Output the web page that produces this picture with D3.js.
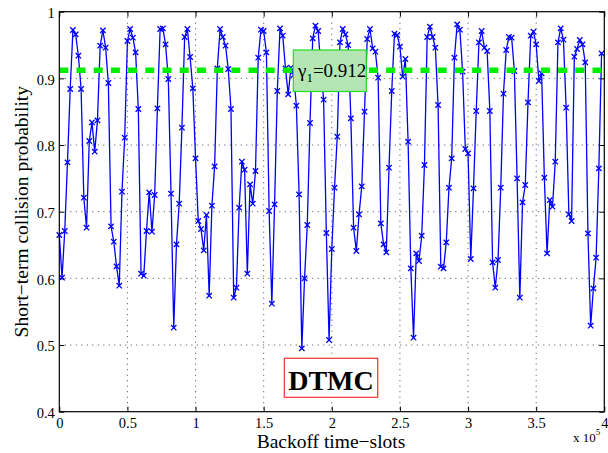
<!DOCTYPE html>
<html><head><meta charset="utf-8">
<script src="https://cdn.jsdelivr.net/npm/d3@7"></script>
<style>
html,body{margin:0;padding:0;background:#fff;}
text{font-family:"Liberation Serif","Times New Roman",serif;}
</style></head>
<body><svg id="c" width="608" height="453"></svg>
<script>
// ---- data ----
const xStart = 0;          // first backoff time-slot
const xStep = 2000;        // time-slot spacing between samples
const probValues = [
0.665,0.601,0.671,0.774,0.884,0.9725,0.966,0.934,0.884,0.721,
0.676,0.806,0.834,0.79,0.837,0.949,0.972,0.946,0.893,0.678,
0.655,0.618,0.589,0.73,0.811,0.956,0.974,0.961,0.939,0.854,
0.607,0.604,0.671,0.729,0.67,0.725,0.855,0.974,0.975,0.951,
0.899,0.727,0.526,0.651,0.712,0.826,0.962,0.974,0.932,0.885,
0.78,0.686,0.674,0.642,0.695,0.574,0.709,0.768,0.915,0.974,
0.962,0.949,0.914,0.854,0.571,0.586,0.706,0.775,0.763,0.607,
0.741,0.712,0.761,0.931,0.973,0.971,0.939,0.701,0.562,0.711,
0.881,0.975,0.964,0.915,0.876,0.916,0.905,0.859,0.726,0.495,
0.6,0.68,0.833,0.96,0.979,0.971,0.915,0.868,0.668,0.5075,
0.644,0.736,0.8125,0.954,0.974,0.966,0.95,0.84,0.676,0.641,
0.696,0.738,0.85,0.959,0.974,0.945,0.94,0.901,0.6825,0.651,
0.639,0.766,0.881,0.967,0.965,0.9475,0.9025,0.929,0.805,0.615,
0.511,0.6375,0.626,0.664,0.77,0.962,0.9775,0.962,0.946,0.86,
0.6175,0.615,0.654,0.736,0.78,0.931,0.981,0.973,0.91,0.794,
0.7875,0.629,0.735,0.851,0.954,0.971,0.946,0.941,0.851,0.624,
0.586,0.6275,0.736,0.877,0.9425,0.962,0.961,0.911,0.75,0.571,
0.714,0.74,0.864,0.964,0.97,0.951,0.896,0.9075,0.751,0.6375,
0.7175,0.7075,0.775,0.954,0.975,0.958,0.856,0.696,0.686,0.9325,
0.944,0.9575,0.951,0.924,0.6675,0.529,0.585,0.631,0.765,0.9375
];
const thresholdValue = 0.912;
const xTicks = [0, 50000, 100000, 150000, 200000, 250000, 300000, 350000, 400000];
const xTickLabels = ["0","0.5","1","1.5","2","2.5","3","3.5","4"];
const yTicks = [0.4, 0.5, 0.6, 0.7, 0.8, 0.9, 1];
const yTickLabels = ["0.4","0.5","0.6","0.7","0.8","0.9","1"];
const xLabel = "Backoff time\u2212slots";
const yLabel = "Short\u2212term collision probability";
const boxLabel = "DTMC";

// ---- layout ----
const L = 59.3, R = 604.3, T = 11.7, B = 411.7;
const svg = d3.select("#c");
const x = d3.scaleLinear().domain([0, 400000]).range([L, R]);
const y = d3.scaleLinear().domain([0.4, 1]).range([B, T]);
const pts = probValues.map((v, i) => ({x: xStart + i * xStep, y: v}));

// grid
const grid = svg.append("g").attr("stroke", "#333").attr("stroke-width", 0.9).attr("stroke-dasharray", "1,4.5");
grid.selectAll(".gx").data(xTicks.slice(1, -1)).join("line")
  .attr("x1", d => x(d)).attr("x2", d => x(d)).attr("y1", T).attr("y2", B);
grid.selectAll(".gy").data(yTicks.slice(1, -1)).join("line")
  .attr("y1", d => y(d)).attr("y2", d => y(d)).attr("x1", L).attr("x2", R);

// axes (MATLAB style, inward ticks)
const fmtX = d => xTickLabels[xTicks.indexOf(d)];
const fmtY = d => yTickLabels[yTicks.indexOf(d)];
const axB = svg.append("g").attr("transform", `translate(0,${B})`)
  .call(d3.axisBottom(x).tickValues(xTicks).tickFormat(fmtX).tickSizeInner(-5).tickSizeOuter(0).tickPadding(6));
const axT = svg.append("g").attr("transform", `translate(0,${T})`)
  .call(d3.axisTop(x).tickValues(xTicks).tickFormat("").tickSizeInner(-5).tickSizeOuter(0));
const axL = svg.append("g").attr("transform", `translate(${L},0)`)
  .call(d3.axisLeft(y).tickValues(yTicks).tickFormat(fmtY).tickSizeInner(-5).tickSizeOuter(0).tickPadding(4.5));
const axR = svg.append("g").attr("transform", `translate(${R},0)`)
  .call(d3.axisRight(y).tickValues(yTicks).tickFormat("").tickSizeInner(-5).tickSizeOuter(0));
[axB, axT, axL, axR].forEach(a => {
  a.select(".domain").remove();
  a.selectAll("line").attr("stroke", "#000");
  a.selectAll("text").attr("font-size", 14.5).attr("fill", "#000")
   .style("font-family", '"Liberation Serif","Times New Roman",serif');
});
axL.selectAll("text").attr("dy", "0.4em");

// data line
svg.append("path").datum(pts)
  .attr("fill", "none").attr("stroke", "#0000ff").attr("stroke-width", 1.3)
  .attr("d", d3.line().x(d => x(d.x)).y(d => y(d.y)));
svg.append("g").selectAll("path").data(pts).join("path")
  .attr("transform", d => `translate(${x(d.x)},${y(d.y)})`)
  .attr("d", "M-2.7,-2.7L2.7,2.7M-2.7,2.7L2.7,-2.7")
  .attr("stroke", "#0000ff").attr("stroke-width", 1.3).attr("fill", "none");

// threshold line
svg.append("line").attr("x1", L).attr("x2", R)
  .attr("y1", y(thresholdValue)).attr("y2", y(thresholdValue))
  .attr("stroke", "#00ee00").attr("stroke-width", 5.5).attr("stroke-dasharray", "9,8.2");

// threshold label box
svg.append("rect").attr("x", 293.3).attr("y", 50).attr("width", 73).attr("height", 41.5)
  .attr("fill", "#b3e6b3").attr("stroke", "#22dd22").attr("stroke-width", 1.2);
const tl = svg.append("text").attr("x", 298).attr("y", 77).attr("font-size", 19).attr("fill", "#000");
tl.append("tspan").text("\u03b3");
tl.append("tspan").attr("font-size", 13).attr("dy", 5).text("1");
tl.append("tspan").attr("dy", -5).text("=" + thresholdValue.toFixed(3));

// DTMC box
svg.append("rect").attr("x", 284.3).attr("y", 358.3).attr("width", 93.4).attr("height", 39)
  .attr("fill", "#fff").attr("stroke", "#ee3333").attr("stroke-width", 1.2);
svg.append("text").attr("x", 331).attr("y", 389.5).attr("text-anchor", "middle")
  .attr("font-size", 28).attr("font-weight", "bold").attr("fill", "#000").text(boxLabel);

// axes border
svg.append("rect").attr("x", L).attr("y", T).attr("width", R - L).attr("height", B - T)
  .attr("fill", "none").attr("stroke", "#000").attr("stroke-width", 1.2);

// labels
svg.append("text").attr("x", 331).attr("y", 447.5).attr("text-anchor", "middle")
  .attr("font-size", 19.5).attr("fill", "#000").text(xLabel);
svg.append("text").attr("transform", `translate(28,${(T + B) / 2}) rotate(-90)`)
  .attr("text-anchor", "middle").attr("font-size", 19.5).attr("fill", "#000").text(yLabel);
const ex = svg.append("text").attr("x", 573).attr("y", 442).attr("font-size", 13).attr("fill", "#000");
ex.append("tspan").text("x 10");
ex.append("tspan").attr("dy", -7).attr("font-size", 9).text("5");
</script></body></html>
